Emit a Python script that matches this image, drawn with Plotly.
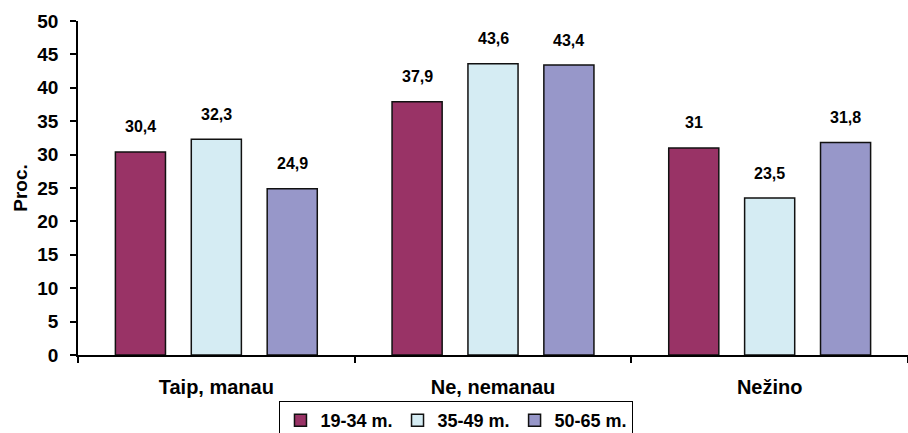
import plotly.graph_objects as go

# Survey answers by age group (percent)
categories = ["Taip, manau", "Ne, nemanau", "Nežino"]
age_groups = ["19-34 m.", "35-49 m.", "50-65 m."]
values_19_34 = [30.4, 37.9, 31.0]
values_35_49 = [32.3, 43.6, 23.5]
values_50_65 = [24.9, 43.4, 31.8]
colors = ["#993366", "#D5ECF3", "#9797C9"]
y_ticks = list(range(0, 55, 5))

series = [values_19_34, values_35_49, values_50_65]

FONT = "Liberation Sans, Arial, sans-serif"

fig = go.Figure()
for name, vals, col in zip(age_groups, series, colors):
    fig.add_trace(go.Bar(
        x=categories, y=vals, name=name,
        marker=dict(color=col, line=dict(color="#111111", width=1.5)),
        showlegend=True,
    ))

# value labels above every bar, with decimal comma
bargap = 0.177
slot = (1 - bargap) / len(series)
annotations = []
for si, vals in enumerate(series):
    offset = (si - (len(series) - 1) / 2) * slot
    for ci, v in enumerate(vals):
        txt = (f"{v:g}").replace(".", ",")
        annotations.append(dict(
            x=ci + offset, y=v, xref="x", yref="y", text=f"<b>{txt}</b>",
            showarrow=False, yanchor="middle", yshift=25,
            font=dict(family=FONT, size=16, color="#000000"),
        ))

fig.update_layout(
    width=908, height=433,
    margin=dict(l=78, r=0, t=21, b=78),
    paper_bgcolor="white", plot_bgcolor="white",
    barmode="group", bargap=bargap, bargroupgap=0.34,
    font=dict(family=FONT, color="#000000"),
    annotations=annotations,
    showlegend=True,
    legend=dict(
        orientation="h", x=0.456, xanchor="center",
        yref="container", y=1 - 401 / 433, yanchor="top",
        bordercolor="#000000", borderwidth=1, bgcolor="white",
        font=dict(family=FONT, size=18, color="#000000", weight="bold"),
        itemwidth=30, tracegroupgap=0,
    ),
    xaxis=dict(
        showline=True, linecolor="#000000", linewidth=1.5,
        ticks="outside", tickson="boundaries", ticklen=6, tickcolor="#000000",
        tickwidth=1.5, showgrid=False,
        tickfont=dict(family=FONT, size=20, color="#000000", weight="bold"),
        ticklabelstandoff=13,
    ),
    yaxis=dict(
        range=[0, 50], tickvals=y_ticks, ticktext=[f"<b>{t}</b>" for t in y_ticks],
        showline=True, linecolor="#000000", linewidth=1.5,
        ticks="outside", ticklen=6, tickcolor="#000000", tickwidth=1.5,
        showgrid=False, zeroline=False,
        tickfont=dict(family=FONT, size=19, color="#000000"),
        ticklabelstandoff=8,
        title=dict(text="<b>Proc.</b>", font=dict(family=FONT, size=19, color="#000000"),
                   standoff=5),
    ),
)

fig.write_html("out.html")
